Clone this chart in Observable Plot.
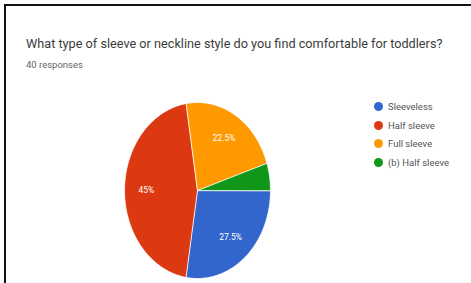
<!DOCTYPE html>
<html>
<head>
<meta charset="utf-8">
<script src="https://cdn.jsdelivr.net/npm/d3@7"></script>
<script src="https://cdn.jsdelivr.net/npm/@observablehq/plot@0.6"></script>
<style>
  html, body { margin: 0; padding: 0; background: #fff; }
  #wrap { position: relative; width: 471px; height: 283px; overflow: hidden; font-family: Roboto, "Noto Sans", sans-serif; }
  #frame { position: absolute; left: 4px; top: 4px; width: 480px; height: 290px; border-left: 2px solid #111; border-top: 2px solid #111; box-sizing: border-box; }
  #title { position: absolute; left: 26px; top: 36px; font-size: 12.7px; color: #3c3c3c; white-space: nowrap; }
  #sub { position: absolute; left: 26px; top: 59px; font-size: 9.5px; color: #666; white-space: nowrap; }
  #chart { position: absolute; left: 0; top: 0; }
  #legend { position: absolute; left: 374px; top: 97px; font-size: 9.5px; color: #555; }
  .item { display: flex; align-items: center; height: 18.7px; }
  .sw { width: 9px; height: 9px; border-radius: 50%; margin-right: 5px; }
</style>
</head>
<body>
<div id="wrap">
  <div id="frame"></div>
  <div id="title"></div>
  <div id="sub"></div>
  <div id="chart"></div>
  <div id="legend"></div>
</div>
<script>
const title = "What type of sleeve or neckline style do you find comfortable for toddlers?";
const subtitle = "40 responses";
const categories = ["Sleeveless", "Half sleeve", "Full sleeve", "(b) Half sleeve"];
const values = [27.5, 45, 22.5, 5];
const labels = ["27.5%", "45%", "22.5%", ""];
const colors = ["#3366cc", "#dc3912", "#ff9900", "#109618"];

document.getElementById("title").textContent = title;
document.getElementById("sub").textContent = subtitle;
const leg = document.getElementById("legend");
categories.forEach((c, i) => {
  const d = document.createElement("div");
  d.className = "item";
  d.innerHTML = `<span class="sw" style="background:${colors[i]}"></span><span></span>`;
  d.lastChild.textContent = c;
  leg.appendChild(d);
});

const data = categories.map((c, i) => ({category: c, value: values[i], label: labels[i]}));
const arcs = d3.pie().sort(null).value(d => d.value)
  .startAngle(Math.PI / 2).endAngle(Math.PI / 2 + 2 * Math.PI)(data);

const pts = [];
arcs.forEach(a => {
  pts.push({category: a.data.category, x: 0, y: 0});
  const n = Math.max(2, Math.ceil((a.endAngle - a.startAngle) / 0.02));
  for (let k = 0; k <= n; k++) {
    const t = a.startAngle + (a.endAngle - a.startAngle) * k / n;
    pts.push({category: a.data.category, x: Math.sin(t), y: Math.cos(t)});
  }
});
const lab = arcs.map(a => {
  const m = (a.startAngle + a.endAngle) / 2;
  return {label: a.data.label, x: 0.7 * Math.sin(m), y: 0.7 * Math.cos(m)};
});

const cx = 197, cy = 190, rx = 73, ry = 88;
const chart = Plot.plot({
  width: 471, height: 283,
  margin: 0,
  x: {domain: [-1, 1], range: [cx - rx, cx + rx], axis: null},
  y: {domain: [-1, 1], range: [cy + ry, cy - ry], axis: null},
  color: {domain: categories, range: colors},
  style: {background: "transparent", fontFamily: "Roboto, sans-serif"},
  marks: [
    Plot.line(pts, {x: "x", y: "y", z: "category", fill: "category", stroke: "white", strokeWidth: 0.8, curve: "linear-closed"}),
    Plot.text(lab, {x: "x", y: "y", text: "label", fill: "white", fontSize: 8.5})
  ]
});
document.getElementById("chart").appendChild(chart);
</script>
</body>
</html>
